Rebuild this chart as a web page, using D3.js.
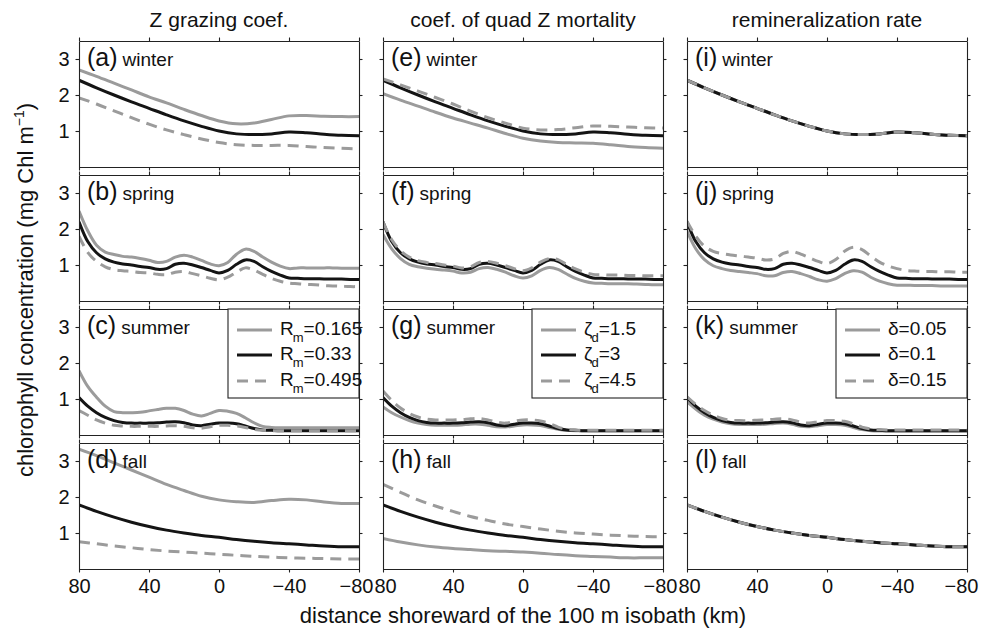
<!DOCTYPE html>
<html>
<head>
<meta charset="utf-8">
<script src="https://cdn.jsdelivr.net/npm/d3@7"></script>
<style>
  body { margin: 0; background: #fff; }
  svg { display: block; font-family: "Liberation Sans", Arial, Helvetica, sans-serif; }
</style>
</head>
<body>
<svg id="chart" width="982" height="630"></svg>
<script>
// ---- distance grids (km shoreward of the 100 m isobath) ----
const distFine = [80, 75, 70, 65, 60, 55, 50, 45, 40, 35, 30, 25, 20, 15, 10, 5, 0,
  -5, -10, -15, -20, -25, -30, -35, -40, -45, -50, -55, -60, -65, -70, -75, -80];
const distCoarse = [80, 70, 60, 50, 40, 30, 20, 10, 0, -10, -20, -30, -40, -50, -60, -70, -80];

const xTicks = [80, 40, 0, -40, -80];
const yTicks = [1, 2, 3];

const columnTitles = ["Z grazing coef.", "coef. of quad Z mortality", "remineralization rate"];
const seasons = ["winter", "spring", "summer", "fall"];
const panelLetters = [["a", "b", "c", "d"], ["e", "f", "g", "h"], ["i", "j", "k", "l"]];

// legend labels: [main symbol, subscript, value text]
const grazingLegend = [["R", "m", "=0.165"], ["R", "m", "=0.33"], ["R", "m", "=0.495"]];
const mortalityLegend = [["\u03B6", "d", "=1.5"], ["\u03B6", "d", "=3"], ["\u03B6", "d", "=4.5"]];
const remineralLegend = [["\u03B4", "", "=0.05"], ["\u03B4", "", "=0.1"], ["\u03B4", "", "=0.15"]];

// ---- reference run (black), one per season ----
const baseWinter = [2.41, 2.20, 2.00, 1.81, 1.63, 1.45, 1.28, 1.13, 1.00, 0.92, 0.90, 0.92, 0.97, 0.95, 0.91, 0.88, 0.87];
const baseSpring = [2.20, 1.65, 1.34, 1.17, 1.08, 1.03, 1.00, 0.96, 0.93, 0.88, 0.90, 1.02, 1.05, 1.00, 0.93, 0.85, 0.78,
  0.85, 1.02, 1.14, 1.10, 0.95, 0.82, 0.72, 0.64, 0.63, 0.62, 0.62, 0.61, 0.61, 0.61, 0.60, 0.60];
const baseSummer = [1.04, 0.80, 0.62, 0.49, 0.40, 0.35, 0.33, 0.33, 0.33, 0.34, 0.36, 0.37, 0.34, 0.28, 0.26, 0.30, 0.33,
  0.33, 0.31, 0.25, 0.18, 0.14, 0.13, 0.12, 0.12, 0.12, 0.12, 0.12, 0.12, 0.12, 0.12, 0.12, 0.12];
const baseFall = [1.78, 1.60, 1.44, 1.30, 1.18, 1.08, 1.00, 0.93, 0.88, 0.82, 0.77, 0.73, 0.70, 0.67, 0.64, 0.62, 0.62];

// ---- Z grazing coefficient: R_m = 0.165 (gray) and 0.495 (dashed) ----
const grazLowWinter = [2.70, 2.52, 2.33, 2.14, 1.95, 1.78, 1.60, 1.43, 1.28, 1.20, 1.22, 1.32, 1.42, 1.43, 1.41, 1.40, 1.40];
const grazHighWinter = [1.92, 1.75, 1.56, 1.37, 1.19, 1.03, 0.90, 0.78, 0.68, 0.62, 0.60, 0.60, 0.60, 0.57, 0.54, 0.52, 0.50];
const grazLowSpring = [2.50, 1.95, 1.55, 1.36, 1.29, 1.24, 1.22, 1.18, 1.13, 1.07, 1.10, 1.22, 1.27, 1.22, 1.13, 1.03, 0.98,
  1.07, 1.30, 1.44, 1.38, 1.22, 1.08, 0.97, 0.90, 0.92, 0.92, 0.92, 0.92, 0.92, 0.91, 0.91, 0.91];
const grazHighSpring = [1.80, 1.35, 1.10, 0.95, 0.87, 0.84, 0.82, 0.79, 0.78, 0.74, 0.73, 0.80, 0.82, 0.76, 0.70, 0.63, 0.59,
  0.66, 0.80, 0.92, 0.86, 0.74, 0.63, 0.55, 0.50, 0.48, 0.46, 0.45, 0.43, 0.42, 0.41, 0.40, 0.40];
const grazLowSummer = [1.79, 1.35, 1.05, 0.80, 0.65, 0.62, 0.62, 0.63, 0.67, 0.71, 0.74, 0.74, 0.68, 0.58, 0.53, 0.60, 0.68,
  0.66, 0.60, 0.48, 0.34, 0.24, 0.21, 0.20, 0.20, 0.20, 0.20, 0.20, 0.20, 0.20, 0.20, 0.20, 0.20];
const grazHighSummer = [0.68, 0.55, 0.42, 0.33, 0.27, 0.25, 0.24, 0.24, 0.24, 0.24, 0.25, 0.26, 0.24, 0.20, 0.19, 0.23, 0.27,
  0.27, 0.25, 0.21, 0.16, 0.13, 0.12, 0.12, 0.12, 0.12, 0.12, 0.12, 0.12, 0.12, 0.12, 0.12, 0.12];
const grazLowFall = [3.33, 3.15, 2.95, 2.75, 2.55, 2.35, 2.18, 2.02, 1.92, 1.87, 1.85, 1.90, 1.94, 1.92, 1.86, 1.82, 1.82];
const grazHighFall = [0.76, 0.70, 0.64, 0.59, 0.54, 0.50, 0.47, 0.44, 0.41, 0.38, 0.35, 0.33, 0.31, 0.30, 0.29, 0.28, 0.28];

// ---- quadratic Z mortality: zeta_d = 1.5 (gray) and 4.5 (dashed) ----
const mortLowWinter = [2.04, 1.86, 1.69, 1.52, 1.36, 1.22, 1.08, 0.93, 0.80, 0.72, 0.68, 0.67, 0.66, 0.62, 0.57, 0.54, 0.52];
const mortHighWinter = [2.45, 2.28, 2.11, 1.93, 1.75, 1.55, 1.37, 1.22, 1.08, 1.03, 1.04, 1.09, 1.14, 1.13, 1.11, 1.09, 1.08];
const mortLowSpring = [1.85, 1.45, 1.18, 1.02, 0.95, 0.91, 0.88, 0.86, 0.83, 0.78, 0.80, 0.90, 0.93, 0.88, 0.80, 0.70, 0.64,
  0.70, 0.85, 0.93, 0.88, 0.75, 0.63, 0.55, 0.50, 0.49, 0.48, 0.48, 0.48, 0.47, 0.46, 0.45, 0.45];
const mortHighSpring = [2.20, 1.70, 1.40, 1.22, 1.12, 1.07, 1.04, 1.00, 0.97, 0.92, 0.95, 1.07, 1.10, 1.05, 0.98, 0.90, 0.84,
  0.92, 1.08, 1.18, 1.15, 1.01, 0.89, 0.80, 0.74, 0.73, 0.72, 0.72, 0.71, 0.71, 0.70, 0.70, 0.70];
const mortLowSummer = [0.78, 0.62, 0.50, 0.40, 0.33, 0.29, 0.27, 0.27, 0.27, 0.28, 0.30, 0.30, 0.27, 0.23, 0.22, 0.25, 0.28,
  0.28, 0.26, 0.21, 0.16, 0.13, 0.12, 0.12, 0.12, 0.12, 0.12, 0.12, 0.12, 0.12, 0.12, 0.12, 0.12];
const mortHighSummer = [1.22, 0.96, 0.75, 0.60, 0.50, 0.44, 0.42, 0.42, 0.42, 0.43, 0.45, 0.46, 0.42, 0.36, 0.33, 0.38, 0.42,
  0.42, 0.39, 0.32, 0.22, 0.16, 0.14, 0.13, 0.13, 0.13, 0.13, 0.13, 0.13, 0.13, 0.13, 0.13, 0.13];
const mortLowFall = [0.85, 0.75, 0.67, 0.61, 0.57, 0.54, 0.51, 0.49, 0.47, 0.44, 0.40, 0.37, 0.35, 0.33, 0.31, 0.31, 0.31];
const mortHighFall = [2.35, 2.13, 1.92, 1.75, 1.60, 1.46, 1.35, 1.25, 1.18, 1.11, 1.05, 1.00, 0.97, 0.94, 0.92, 0.90, 0.90];

// ---- remineralization rate: delta = 0.05 (gray) and 0.15 (dashed) ----
const remLowWinter = [2.41, 2.20, 2.00, 1.81, 1.63, 1.45, 1.28, 1.13, 1.00, 0.92, 0.90, 0.92, 0.97, 0.95, 0.91, 0.88, 0.87];
const remHighWinter = [2.41, 2.20, 2.00, 1.81, 1.63, 1.45, 1.28, 1.13, 1.00, 0.92, 0.90, 0.92, 0.97, 0.95, 0.91, 0.88, 0.87];
const remLowSpring = [1.94, 1.45, 1.15, 0.98, 0.90, 0.85, 0.82, 0.79, 0.76, 0.70, 0.70, 0.79, 0.82, 0.76, 0.68, 0.59, 0.55,
  0.62, 0.76, 0.84, 0.80, 0.66, 0.55, 0.48, 0.44, 0.44, 0.43, 0.43, 0.43, 0.42, 0.42, 0.42, 0.42];
const remHighSpring = [2.22, 1.80, 1.52, 1.38, 1.32, 1.28, 1.25, 1.22, 1.19, 1.14, 1.17, 1.32, 1.38, 1.30, 1.20, 1.10, 1.04,
  1.15, 1.38, 1.49, 1.43, 1.25, 1.08, 0.97, 0.90, 0.85, 0.83, 0.82, 0.82, 0.81, 0.81, 0.80, 0.80];
const remLowSummer = [0.92, 0.72, 0.55, 0.44, 0.36, 0.31, 0.29, 0.29, 0.29, 0.30, 0.32, 0.33, 0.30, 0.24, 0.23, 0.26, 0.29,
  0.29, 0.27, 0.21, 0.15, 0.12, 0.11, 0.11, 0.11, 0.11, 0.11, 0.11, 0.11, 0.11, 0.11, 0.11, 0.11];
const remHighSummer = [1.06, 0.85, 0.68, 0.55, 0.46, 0.41, 0.40, 0.40, 0.41, 0.42, 0.44, 0.45, 0.42, 0.36, 0.33, 0.37, 0.40,
  0.40, 0.38, 0.31, 0.22, 0.17, 0.15, 0.14, 0.14, 0.14, 0.14, 0.14, 0.14, 0.14, 0.14, 0.14, 0.14];
const remLowFall = [1.78, 1.60, 1.44, 1.30, 1.18, 1.08, 1.00, 0.93, 0.88, 0.82, 0.77, 0.73, 0.70, 0.67, 0.64, 0.62, 0.62];
const remHighFall = [1.78, 1.60, 1.44, 1.30, 1.18, 1.08, 1.00, 0.93, 0.88, 0.82, 0.77, 0.73, 0.70, 0.67, 0.64, 0.62, 0.62];

// panel table: columns (parameter) x rows (season)
const panels = [
  [
    { dist: distCoarse, low: grazLowWinter, base: baseWinter, high: grazHighWinter },
    { dist: distFine, low: grazLowSpring, base: baseSpring, high: grazHighSpring },
    { dist: distFine, low: grazLowSummer, base: baseSummer, high: grazHighSummer },
    { dist: distCoarse, low: grazLowFall, base: baseFall, high: grazHighFall }
  ],
  [
    { dist: distCoarse, low: mortLowWinter, base: baseWinter, high: mortHighWinter },
    { dist: distFine, low: mortLowSpring, base: baseSpring, high: mortHighSpring },
    { dist: distFine, low: mortLowSummer, base: baseSummer, high: mortHighSummer },
    { dist: distCoarse, low: mortLowFall, base: baseFall, high: mortHighFall }
  ],
  [
    { dist: distCoarse, low: remLowWinter, base: baseWinter, high: remHighWinter },
    { dist: distFine, low: remLowSpring, base: baseSpring, high: remHighSpring },
    { dist: distFine, low: remLowSummer, base: baseSummer, high: remHighSummer },
    { dist: distCoarse, low: remLowFall, base: baseFall, high: remHighFall }
  ]
];
const legends = [grazingLegend, mortalityLegend, remineralLegend];

// ---- layout ----
const svg = d3.select("#chart");
const colLeft = [79, 383, 687];
const colW = 280;
const rowTop = [41, 175, 309, 443];
const rowH = 126;
const tickLen = 3.5;

const GRAY = "#9b9b9b";
const BLACK = "#141414";
const AXIS = "#222";

const styles = [
  { key: "low", color: GRAY, dash: null },
  { key: "base", color: BLACK, dash: null },
  { key: "high", color: GRAY, dash: "11,7" }
];

const fmtX = d => (d < 0 ? "\u2212" + Math.abs(d) : String(d));

const defs = svg.append("defs");

panels.forEach((column, ci) => {
  const x = d3.scaleLinear().domain([80, -80]).range([colLeft[ci], colLeft[ci] + colW]);

  // column title
  svg.append("text")
    .attr("x", colLeft[ci] + colW / 2)
    .attr("y", 27)
    .attr("text-anchor", "middle")
    .attr("font-size", 21)
    .attr("fill", "#111")
    .text(columnTitles[ci]);

  column.forEach((p, ri) => {
    const top = rowTop[ri];
    const y = d3.scaleLinear().domain([0, 3.5]).range([top + rowH, top]);
    const g = svg.append("g");

    const clipId = `clip-${ci}-${ri}`;
    defs.append("clipPath").attr("id", clipId)
      .append("rect").attr("x", colLeft[ci]).attr("y", top).attr("width", colW).attr("height", rowH);

    // curves
    const line = d3.line()
      .x((d, i) => x(p.dist[i]))
      .y(d => y(d))
      .curve(d3.curveCatmullRom.alpha(0.5));
    const plot = g.append("g").attr("clip-path", `url(#${clipId})`);
    styles.forEach(s => {
      plot.append("path")
        .attr("d", line(p[s.key]))
        .attr("fill", "none")
        .attr("stroke", s.color)
        .attr("stroke-width", 3)
        .attr("stroke-dasharray", s.dash)
        .attr("stroke-linejoin", "round");
    });

    // axes (ticks outward on all four sides)
    const axL = d3.axisLeft(y).tickValues(yTicks).tickSize(tickLen).tickSizeOuter(0).tickPadding(6)
      .tickFormat(ci === 0 ? d3.format("d") : () => "");
    const axR = d3.axisRight(y).tickValues(yTicks).tickSize(tickLen).tickSizeOuter(0).tickFormat(() => "");
    const axT = d3.axisTop(x).tickValues(xTicks).tickSize(tickLen).tickSizeOuter(0).tickFormat(() => "");
    const axB = d3.axisBottom(x).tickValues(xTicks).tickSize(tickLen).tickSizeOuter(0).tickPadding(6)
      .tickFormat(ri === 3 ? fmtX : () => "");

    const gl = g.append("g").attr("transform", `translate(${colLeft[ci]},0)`).call(axL);
    const gr = g.append("g").attr("transform", `translate(${colLeft[ci] + colW},0)`).call(axR);
    const gt = g.append("g").attr("transform", `translate(0,${top})`).call(axT);
    const gb = g.append("g").attr("transform", `translate(0,${top + rowH})`).call(axB);
    [gl, gr, gt, gb].forEach(a => {
      a.selectAll(".domain").attr("stroke", AXIS).attr("stroke-width", 1.1);
      a.selectAll(".tick line").attr("stroke", AXIS).attr("stroke-width", 1.1);
      a.selectAll("text").attr("font-size", 20).attr("fill", "#111")
        .attr("font-family", "\"Liberation Sans\", Arial, Helvetica, sans-serif");
    });
    // edge labels of neighbouring columns sit back to back ("-8080")
    if (ri === 3) {
      gb.selectAll(".tick text").filter(d => d === -80).attr("dx", ci === 2 ? -6 : -3);
      if (ci > 0) gb.selectAll(".tick text").filter(d => d === 80).attr("dx", 2);
    }

    // panel label
    const lab = g.append("text").attr("x", colLeft[ci] + 8).attr("y", top + 25).attr("fill", "#111");
    lab.append("tspan").attr("font-size", 25).text(`(${panelLetters[ci][ri]})`);
    lab.append("tspan").attr("font-size", 19).attr("dx", 5).text(seasons[ri]);

    // legend in the summer row
    if (ri === 2) {
      const lw = 131, lh = 89;
      const lx = colLeft[ci] + colW - lw;
      const lg = g.append("g");
      lg.append("rect").attr("x", lx).attr("y", top).attr("width", lw).attr("height", lh)
        .attr("fill", "#fff").attr("stroke", AXIS).attr("stroke-width", 1.1);
      const entryY = [top + 21, top + 46, top + 72];
      legends[ci].forEach((lbl, k) => {
        const s = styles[k];
        lg.append("line")
          .attr("x1", lx + 9).attr("x2", lx + 44)
          .attr("y1", entryY[k]).attr("y2", entryY[k])
          .attr("stroke", s.color).attr("stroke-width", 3).attr("stroke-dasharray", s.dash);
        const t = lg.append("text").attr("x", lx + 52).attr("y", entryY[k] + 5)
          .attr("font-size", 19).attr("fill", "#111");
        t.append("tspan").text(lbl[0]);
        if (lbl[1]) {
          t.append("tspan").attr("font-size", 13).attr("dx", -1).attr("dy", 7).text(lbl[1]);
          t.append("tspan").attr("dx", 0).attr("dy", -7).text(lbl[2]);
        } else {
          t.append("tspan").text(lbl[2]);
        }
      });
    }
  });
});

// y-axis title
const yt = svg.append("text")
  .attr("transform", "translate(33,290) rotate(-90)")
  .attr("text-anchor", "middle")
  .attr("font-size", 22)
  .attr("fill", "#111");
yt.append("tspan").text("chlorophyll concentration (mg Chl m");
yt.append("tspan").attr("font-size", 14).attr("dy", -9).text("\u22121");
yt.append("tspan").attr("dy", 9).text(")");

// x-axis title
svg.append("text")
  .attr("x", 523)
  .attr("y", 623)
  .attr("text-anchor", "middle")
  .attr("font-size", 22)
  .attr("fill", "#111")
  .text("distance shoreward of the 100 m isobath (km)");
</script>
</body>
</html>
